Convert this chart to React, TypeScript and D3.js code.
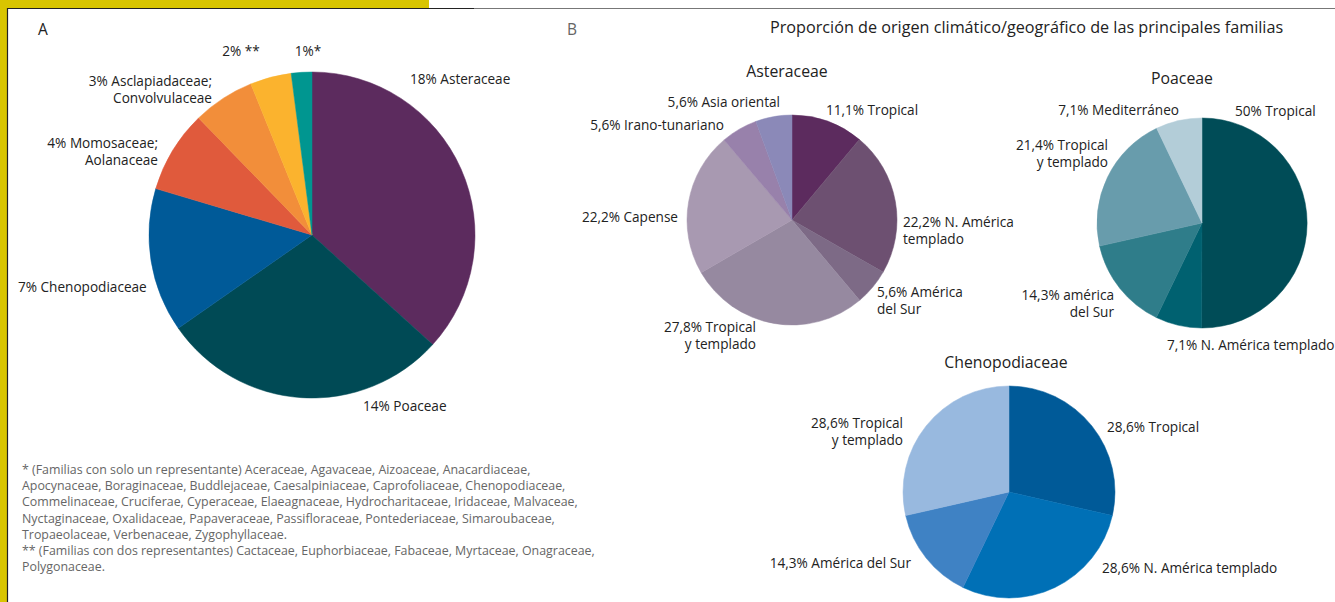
import React from "react";
import * as d3 from "d3";

// ---------- DATA ----------
const familiesA = ["Asteraceae", "Poaceae", "Chenopodiaceae", "Momosaceae; Aolanaceae", "Asclapiadaceae; Convolvulaceae", "**", "*"];
const valuesA = [18, 14, 7, 4, 3, 2, 1];
const labelsA = [
  ["18% Asteraceae"],
  ["14% Poaceae"],
  ["7% Chenopodiaceae"],
  ["4% Momosaceae;", "Aolanaceae"],
  ["3% Asclapiadaceae;", "Convolvulaceae"],
  ["2% **"],
  ["1%*"],
];

const asterCats = ["Tropical", "N. América templado", "América del Sur", "Tropical y templado", "Capense", "Irano-tunariano", "Asia oriental"];
const asterValues = [11.1, 22.2, 5.6, 27.8, 22.2, 5.6, 5.6];
const asterLabels = [
  ["11,1% Tropical"],
  ["22,2% N. América", "templado"],
  ["5,6% América", "del Sur"],
  ["27,8% Tropical", "y templado"],
  ["22,2% Capense"],
  ["5,6% Irano-tunariano"],
  ["5,6% Asia oriental"],
];

const poaCats = ["Tropical", "N. América templado", "américa del Sur", "Tropical y templado", "Mediterráneo"];
const poaValues = [50, 7.1, 14.3, 21.4, 7.1];
const poaLabels = [
  ["50% Tropical"],
  ["7,1% N. América templado"],
  ["14,3% américa", "del Sur"],
  ["21,4% Tropical", "y templado"],
  ["7,1% Mediterráneo"],
];

const chenoCats = ["Tropical", "N. América templado", "América del Sur", "Tropical y templado"];
const chenoValues = [28.6, 28.6, 14.3, 28.6];
const chenoLabels = [
  ["28,6% Tropical"],
  ["28,6% N. América templado"],
  ["14,3% América del Sur"],
  ["28,6% Tropical", "y templado"],
];

const footnoteLines = [
  "* (Familias con solo un representante) Aceraceae, Agavaceae, Aizoaceae, Anacardiaceae,",
  "Apocynaceae, Boraginaceae, Buddlejaceae, Caesalpiniaceae, Caprofoliaceae, Chenopodiaceae,",
  "Commelinaceae, Cruciferae, Cyperaceae, Elaeagnaceae, Hydrocharitaceae, Iridaceae, Malvaceae,",
  "Nyctaginaceae, Oxalidaceae, Papaveraceae, Passifloraceae, Pontederiaceae, Simaroubaceae,",
  "Tropaeolaceae, Verbenaceae, Zygophyllaceae.",
  "** (Familias con dos representantes) Cactaceae, Euphorbiaceae, Fabaceae, Myrtaceae, Onagraceae,",
  "Polygonaceae.",
];

const titleB = "Proporción de origen climático/geográfico de las principales familias";

// ---------- STYLE / LAYOUT ----------
const colorsA = ["#5c2b5e", "#004a55", "#005a98", "#e05a3c", "#f28e3a", "#fbb32e", "#009690"];
const colorsAster = ["#5c2b5e", "#6d5071", "#7d6a86", "#9689a0", "#a899b1", "#9881ab", "#8b89b8"];
const colorsPoa = ["#004c57", "#006170", "#2f7d8a", "#689cac", "#b3cdd8"];
const colorsCheno = ["#005a98", "#0070b6", "#3f82c4", "#98b9df"];

type LabelPos = { x: number; y: number; anchor: "start" | "end" | "middle" };

const layoutA = { cx: 312, cy: 235, r: 163 };
const labelPosA: LabelPos[] = [
  { x: 410, y: 84, anchor: "start" },
  { x: 363, y: 411, anchor: "start" },
  { x: 18, y: 292, anchor: "start" },
  { x: 158, y: 148, anchor: "end" },
  { x: 212, y: 86, anchor: "end" },
  { x: 241, y: 56, anchor: "middle" },
  { x: 308, y: 56, anchor: "middle" },
];

const layoutAster = { cx: 792, cy: 220, r: 105, title: "Asteraceae", tx: 787, ty: 77 };
const labelPosAster: LabelPos[] = [
  { x: 826, y: 115, anchor: "start" },
  { x: 903, y: 227, anchor: "start" },
  { x: 877, y: 297, anchor: "start" },
  { x: 756, y: 332, anchor: "end" },
  { x: 678, y: 222, anchor: "end" },
  { x: 724, y: 130, anchor: "end" },
  { x: 780, y: 107, anchor: "end" },
];

const layoutPoa = { cx: 1202, cy: 223, r: 105, title: "Poaceae", tx: 1182, ty: 84 };
const labelPosPoa: LabelPos[] = [
  { x: 1235, y: 116, anchor: "start" },
  { x: 1167, y: 350, anchor: "start" },
  { x: 1114, y: 300, anchor: "end" },
  { x: 1108, y: 150, anchor: "end" },
  { x: 1179, y: 115, anchor: "end" },
];

const layoutCheno = { cx: 1009, cy: 492, r: 106, title: "Chenopodiaceae", tx: 1006, ty: 368 };
const labelPosCheno: LabelPos[] = [
  { x: 1107, y: 432, anchor: "start" },
  { x: 1102, y: 573, anchor: "start" },
  { x: 911, y: 568, anchor: "end" },
  { x: 903, y: 428, anchor: "end" },
];

const FONT = "'Open Sans', 'Noto Sans', sans-serif";
const LABEL_SIZE = 13.6;
const LINE_H = 16.5;

function Pie({ cx, cy, r, values, colors }: { cx: number; cy: number; r: number; values: number[]; colors: string[] }) {
  const pie = d3.pie<number>().sort(null).value((d) => d).startAngle(0).endAngle(2 * Math.PI);
  const arc = d3.arc<d3.PieArcDatum<number>>().innerRadius(0).outerRadius(r);
  const arcs = pie(values);
  return (
    <g transform={`translate(${cx},${cy})`}>
      {arcs.map((a, i) => (
        <path key={i} d={arc(a) || ""} fill={colors[i]} stroke={colors[i]} strokeWidth={0.5} />
      ))}
    </g>
  );
}

function Labels({ labels, pos, size = LABEL_SIZE }: { labels: string[][]; pos: LabelPos[]; size?: number }) {
  return (
    <g fontFamily={FONT} fontSize={size} fill="#222">
      {labels.map((lines, i) => (
        <text key={i} x={pos[i].x} y={pos[i].y} textAnchor={pos[i].anchor}>
          {lines.map((ln, j) => (
            <tspan key={j} x={pos[i].x} dy={j === 0 ? 0 : LINE_H}>
              {ln}
            </tspan>
          ))}
        </text>
      ))}
    </g>
  );
}

export default function App() {
  return (
    <svg
      width={1335}
      height={602}
      style={{ position: "absolute", left: 0, top: 0, background: "#fff" }}
    >
      {/* frame */}
      <rect x={0} y={0} width={429} height={8} fill="#d9c500" />
      <rect x={0} y={0} width={7} height={602} fill="#d9c500" />
      <line x1={7} y1={8.5} x2={474} y2={8.5} stroke="#222" strokeWidth={1.2} />
      <line x1={474} y1={8.5} x2={1335} y2={8.5} stroke="#777" strokeWidth={1.2} />
      <line x1={7.5} y1={8} x2={7.5} y2={602} stroke="#222" strokeWidth={1.2} />

      {/* Panel A */}
      <text x={38} y={35} fontFamily={FONT} fontSize={15.5} fill="#222">A</text>
      <Pie cx={layoutA.cx} cy={layoutA.cy} r={layoutA.r} values={valuesA} colors={colorsA} />
      <Labels labels={labelsA} pos={labelPosA} />

      <g fontFamily={FONT} fontSize={12.4} fill="#666">
        {footnoteLines.map((ln, i) => (
          <text key={i} x={22} y={474 + i * 16.2}>{ln}</text>
        ))}
      </g>

      {/* Panel B */}
      <text x={567} y={35} fontFamily={FONT} fontSize={15.5} fill="#666">B</text>
      <text x={770} y={33} fontFamily={FONT} fontSize={16.2} fill="#222">{titleB}</text>

      {[layoutAster, layoutPoa, layoutCheno].map((l, i) => (
        <text key={i} x={l.tx} y={l.ty} textAnchor="middle" fontFamily={FONT} fontSize={15.8} fill="#222">
          {l.title}
        </text>
      ))}

      <Pie cx={layoutAster.cx} cy={layoutAster.cy} r={layoutAster.r} values={asterValues} colors={colorsAster} />
      <Labels labels={asterLabels} pos={labelPosAster} />

      <Pie cx={layoutPoa.cx} cy={layoutPoa.cy} r={layoutPoa.r} values={poaValues} colors={colorsPoa} />
      <Labels labels={poaLabels} pos={labelPosPoa} />

      <Pie cx={layoutCheno.cx} cy={layoutCheno.cy} r={layoutCheno.r} values={chenoValues} colors={colorsCheno} />
      <Labels labels={chenoLabels} pos={labelPosCheno} />
    </svg>
  );
}
